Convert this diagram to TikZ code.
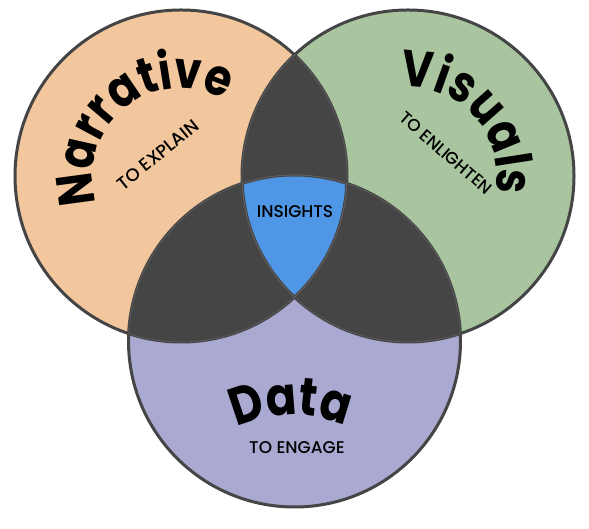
\documentclass[tikz,border=0pt]{standalone}
\usepackage{fontspec}
\setmainfont{Poppins}
\newfontfamily\tagfont{Poppins Medium}
\newfontfamily\wordfont[FakeStretch=0.85]{Poppins Bold}
\usetikzlibrary{decorations.text}
\definecolor{narrfill}{HTML}{F2C79D}
\definecolor{visfill}{HTML}{A8C5A0}
\definecolor{datfill}{HTML}{A9A9D1}
\definecolor{overlapfill}{HTML}{454545}
\definecolor{insightfill}{HTML}{4F97E6}
\tikzset{
  rim/.style={draw=overlapfill, line width=3},
  faint/.style={draw=gray!75!black, line width=.6},
  tag/.style={font=\tagfont\fontsize{17}{17}\selectfont, inner sep=0},
}
\begin{document}
\begin{tikzpicture}[x=1pt, y=1pt]
\useasboundingbox (0,0) rectangle (589,529);
\def\rad{166}
\coordinate (L) at (181,353);
\coordinate (R) at (408,353);
\coordinate (B) at (294.5,188);

\fill[narrfill] (L) circle (\rad);
\fill[visfill] (R) circle (\rad);
\fill[datfill] (B) circle (\rad);
% pairwise overlaps
\begin{scope}
  \clip (L) circle (\rad);
  \fill[overlapfill] (R) circle (\rad);
  \fill[overlapfill] (B) circle (\rad);
\end{scope}
\begin{scope}
  \clip (R) circle (\rad);
  \fill[overlapfill] (B) circle (\rad);
\end{scope}
% centre
\begin{scope}
  \clip (L) circle (\rad);
  \clip (R) circle (\rad);
  \fill[insightfill] (B) circle (\rad);
\end{scope}
\draw[rim] (L) circle (\rad) (R) circle (\rad) (B) circle (\rad);
\foreach \a/\b in {L/R, L/B, R/L, R/B, B/L, B/R}
{
    \begin{scope}
      \clip (\b) circle (\rad);
      \draw[faint] (\a) circle (\rad);
    \end{scope}
}

% curved titles
\path[decorate, decoration={text along path, text align=center,
  text={|\wordfont\fontsize{51}{51}\selectfont|Narrative}}]
  (L) ++(196:88) arc[start angle=196, end angle=62, radius=88];
\path[decorate, decoration={text along path, text align=center,
  text={|\wordfont\fontsize{51}{51}\selectfont|Visuals}}]
  (R) ++(94:89) arc[start angle=94, end angle=-10, radius=89];
\path[decorate, decoration={text along path, text align=center,
  text={|\wordfont\fontsize{53}{53}\selectfont|Data}}]
  (293,-16) ++(126:130) arc[start angle=126, end angle=56, radius=130];

\node[tag, rotate=39, font=\tagfont\fontsize{18}{18}\selectfont] (explain) at (158,374) {TO EXPLAIN};
\node[tag, rotate=-41] (enlighten) at (446,376) {TO ENLIGHTEN};
\node[tag] (engage) at (297,81) {TO ENGAGE};
\node[tag] (insights) at (295,317) {INSIGHTS};
\end{tikzpicture}
\end{document}
